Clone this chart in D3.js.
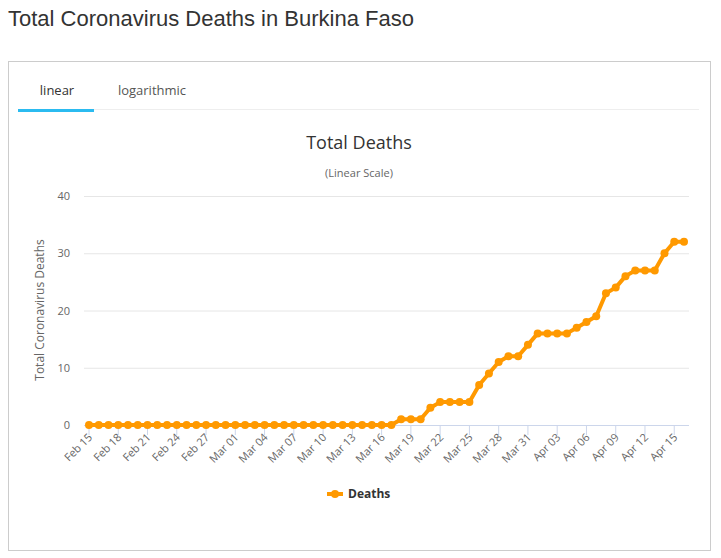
<!DOCTYPE html><html><head><meta charset="utf-8"><script src="https://cdn.jsdelivr.net/npm/d3@7"></script>
<style>body{margin:0;background:#fff;font-family:"Open Sans",Arial,sans-serif}</style></head><body><svg id="c" width="721" height="558"></svg>
<script>
const startDate = "2020-02-15";
const dayCount = 62;
const zeroDays = 32;
const risingValues = [1,1,1,3,4,4,4,4,7,9,11,12,12,14,16,16,16,16,17,18,19,23,24,26,27,27,27,30,32,32];
const yTicks = [0,10,20,30,40];
const fmt = d3.timeFormat("%b %d");
const parse = d3.timeParse("%Y-%m-%d");
const s = parse(startDate);
const values = d3.range(zeroDays).map(()=>0).concat(risingValues);
const data = values.map((v,i)=>({d:d3.timeDay.offset(s,i),v}));
const svg = d3.select("#c");
svg.append("text").attr("x",8).attr("y",26).attr("font-family","Arial, Liberation Sans").attr("font-size",22).attr("fill","#333").text("Total Coronavirus Deaths in Burkina Faso");
svg.append("rect").attr("x",8.5).attr("y",61.5).attr("width",702).attr("height",489).attr("fill","none").attr("stroke","#ccc");
svg.append("line").attr("x1",18).attr("x2",699).attr("y1",109.5).attr("y2",109.5).attr("stroke","#eee");
svg.append("rect").attr("x",18).attr("y",109).attr("width",76).attr("height",3).attr("fill","#2bbbf0");
svg.append("text").attr("x",57).attr("y",95).attr("text-anchor","middle").attr("font-size",13).attr("fill","#333").text("linear");
svg.append("text").attr("x",152).attr("y",95).attr("text-anchor","middle").attr("font-size",13).attr("fill","#555").text("logarithmic");
svg.append("text").attr("x",359).attr("y",149).attr("text-anchor","middle").attr("font-size",18).attr("fill","#333").text("Total Deaths");
svg.append("text").attr("x",359).attr("y",177).attr("text-anchor","middle").attr("font-size",11).attr("fill","#666").text("(Linear Scale)");
const x = d3.scaleTime().domain([data[0].d,data[data.length-1].d]).range([89,684]);
const y = d3.scaleLinear().domain([0,40]).range([425,196]);
const g = svg.append("g");
yTicks.forEach(t=>{
 g.append("line").attr("x1",84).attr("x2",689).attr("y1",y(t)+0.5).attr("y2",y(t)+0.5).attr("stroke",t===0?"#ccd6eb":"#e6e6e6");
 g.append("text").attr("x",70).attr("y",y(t)+4).attr("text-anchor","end").attr("font-size",11).attr("fill","#666").text(t);
});
svg.append("text").attr("transform","translate(44,310) rotate(-90)").attr("text-anchor","middle").attr("font-size",12).attr("fill","#666").text("Total Coronavirus Deaths");
data.forEach((p,i)=>{ if(i%3===0){
 const tx=x(p.d);
 g.append("line").attr("x1",tx).attr("x2",tx).attr("y1",425).attr("y2",435).attr("stroke","#ccd6eb");
 g.append("text").attr("transform",`translate(${tx+4},${438}) rotate(-45)`).attr("text-anchor","end").attr("font-size",11).attr("fill","#666").text(fmt(p.d));
}});
const col="#ff9900";
g.append("path").datum(data).attr("fill","none").attr("stroke",col).attr("stroke-width",4).attr("stroke-linejoin","round").attr("d",d3.line().x(d=>x(d.d)).y(d=>y(d.v)));
g.selectAll("circle").data(data).join("circle").attr("cx",d=>x(d.d)).attr("cy",d=>y(d.v)).attr("r",4).attr("fill",col);
svg.append("line").attr("x1",327).attr("x2",343).attr("y1",494).attr("y2",494).attr("stroke",col).attr("stroke-width",4);
svg.append("circle").attr("cx",335).attr("cy",494).attr("r",4).attr("fill",col);
svg.append("text").attr("x",348).attr("y",498).attr("font-size",12).attr("font-weight","bold").attr("fill","#333").text("Deaths");
</script></body></html>
